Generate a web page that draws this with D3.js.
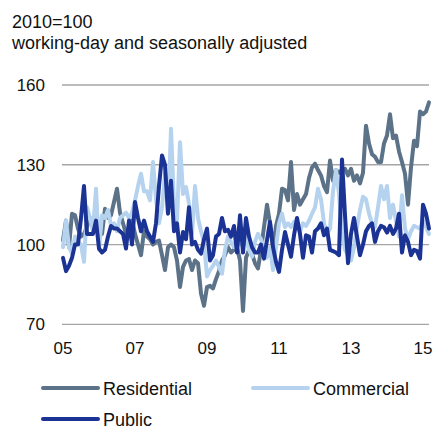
<!DOCTYPE html>
<html>
<head>
<meta charset="utf-8">
<script src="https://cdn.jsdelivr.net/npm/d3@7"></script>
<style>
  body { margin: 0; background: #fff; }
  svg { font-family: "Liberation Sans", Arial, sans-serif; }
</style>
</head>
<body>
<svg width="435" height="430"></svg>
<script>
// monthly, Jan 2005 .. Mar 2015
var startYear = 2005;
var residential = [101.6,109,99,111.6,111,106,103,104,106.6,110,108,106.6,105,104,113.5,110,111,116,121,112,108,104,106,109,
  104,100,96,105,103,102,100,101,101.5,96,90.4,99,100,99,94,84,91.6,94,94.5,90.4,94,93,81.6,77,
  84,84.5,83.5,87,90,94,96,99,97,98,99,94,75,95,98,96.5,93,91,98,106.6,115,108,99,107,
  111.6,121,120.5,116.6,131,113,119,115,117,119,125,129,130.4,128,126,122,119.7,131.6,124,128,127,128,
  128.5,126,128.5,124,126,123,127,144.7,138,134,133,131,131,138,141,149,140,141,135,131,126.6,115,
  129,139,137,150,149,150,153.5];
var commercial = [99,109,99,96.6,103,101,100,93.5,114,110,105,121,98,111,110,113,107,108,105,110,111,112,110,112,
  116.6,122,126.6,120,120,116.6,131,117,108,114,126.6,112,143.5,115,109,138.5,119,121.6,115.4,104,122,110,105,101,
  88,90.4,92,94,91.6,89,98,103,101,99,101,100,104,102,98,95.4,101,104,102,99,95,99,90.4,99,
  108,111.6,106.6,108,106.6,108.5,106,105,108,107,109,111.6,114,121,117,108,104,106,120,128,119,105,
  98,96,94,99,106.6,113,118,117,111.6,108,106.6,114,122,117,122,110,115,109,103,118.5,106,102,
  105,107,106.5,106,109,106.5,104];
var publicW = [95,90,92,95,100,100,110,122,104,104,104,109,98.5,97,98,103,107,106,106,105,104,98.5,109,100,
  116,110,105,109,105,103,101,108,122,133.5,130,111.6,124,105,108,97,104.7,102,114,100,101,98,96.6,102,
  106,94,96,103,104,110,105,105.5,103,107,97,111,97,110,103,99,97,97,100,94.7,101.6,108.5,99,93.5,
  89.7,98,104.7,100,95.4,103.5,110,104,95,103.5,103,97,105,106,108,103.5,106,98,97.5,97,96,132,
  111,93,104,110,103,96,100,105,107,108,101,105,107,106.5,104.5,107,104,106,111.6,97,103.5,101,
  96,98,97.5,94.7,115,111.6,106];
var yTicks = [70, 100, 130, 160];
var xTicks = [2005, 2007, 2009, 2011, 2013, 2015];

var series = [
  {name: "Residential", values: residential, color: "#5b7288"},
  {name: "Commercial", values: commercial, color: "#b5d2ef"},
  {name: "Public", values: publicW, color: "#1b3394"}
];

var svg = d3.select("svg");

var x = d3.scaleLinear().domain([2005, 2015]).range([63, 423]);
var y = d3.scaleLinear().domain([70, 160]).range([324.3, 85]);

// titles
svg.append("text").attr("x", 12).attr("y", 28)
    .style("font-size", "18px").attr("fill", "#111").text("2010=100");
svg.append("text").attr("x", 12).attr("y", 49)
    .style("font-size", "18px").attr("fill", "#111").text("working-day and seasonally adjusted");

// gridlines
svg.append("g").selectAll("line")
    .data(yTicks)
    .enter().append("line")
    .attr("x1", 62).attr("x2", 429)
    .attr("y1", function (d) {return y(d);})
    .attr("y2", function (d) {return y(d);})
    .attr("stroke", "#a6a6a6")
    .attr("stroke-width", 1.3);

svg.append("g").selectAll("text")
    .data(yTicks)
    .enter().append("text")
    .attr("x", 45)
    .attr("y", function (d) {return y(d) + 6;})
    .attr("text-anchor", "end")
    .style("font-size", "17px")
    .attr("fill", "#111")
    .text(function (d) {return d;});

svg.append("g").selectAll("text")
    .data(xTicks)
    .enter().append("text")
    .attr("x", function (d) {return x(d);})
    .attr("y", 354)
    .attr("text-anchor", "middle")
    .style("font-size", "17px")
    .attr("fill", "#111")
    .text(function (d) {return d3.format("02d")(d % 100);});

var line = d3.line()
    .x(function (d, i) {return x(startYear + i / 12);})
    .y(function (d) {return y(d);});

svg.append("g").selectAll("path")
    .data(series)
    .enter().append("path")
    .attr("d", function (d) {return line(d.values);})
    .attr("fill", "none")
    .attr("stroke", function (d) {return d.color;})
    .attr("stroke-width", 4)
    .attr("stroke-linejoin", "round")
    .attr("stroke-linecap", "round");

// legend
var legendPos = [[43, 388], [253, 388], [43, 419]];
var legend = svg.append("g").selectAll("g")
    .data(series)
    .enter().append("g")
    .attr("transform", function (d, i) {return "translate(" + legendPos[i][0] + "," + legendPos[i][1] + ")";});

legend.append("line")
    .attr("x1", 0).attr("x2", 55)
    .attr("stroke", function (d) {return d.color;})
    .attr("stroke-width", 4)
    .attr("stroke-linecap", "round");

legend.append("text")
    .attr("x", 60).attr("y", 7)
    .style("font-size", "18px")
    .attr("fill", "#111")
    .text(function (d) {return d.name;});
</script>
</body>
</html>
